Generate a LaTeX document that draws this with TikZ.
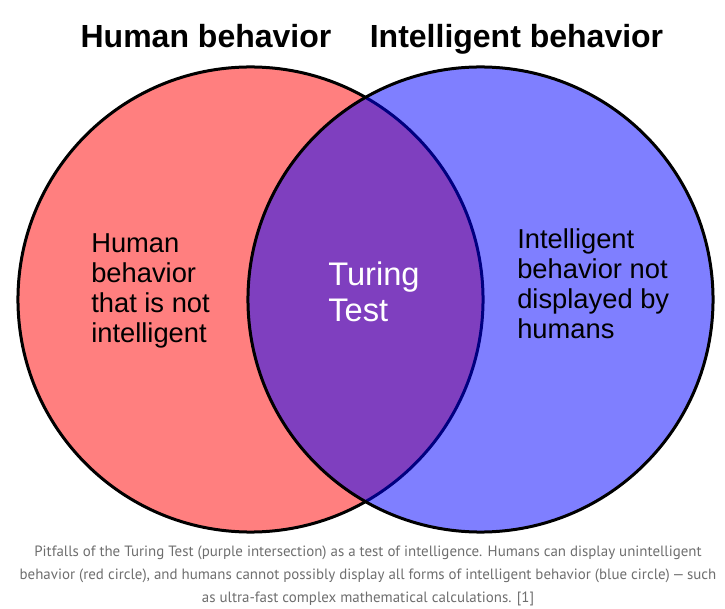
\documentclass[tikz,border=0pt]{standalone}
\usepackage{fontspec}
\setmainfont{Liberation Sans}
\newfontfamily\captionfont{PT Sans}
\usepackage{xcolor}
\definecolor{humanred}{HTML}{FF7F7F}
\definecolor{captiongray}{HTML}{6E6E6E}

\tikzset{
	venn/.style={line width=2.25pt},
	heading/.style={anchor=base, inner sep=0pt, font=\fontsize{24}{28}\selectfont\bfseries},
	inside/.style={anchor=north west, inner sep=0pt, align=left, font=\fontsize{20.5}{22.5}\selectfont},
}

\begin{document}
\begin{tikzpicture}[x=0.75pt,y=-0.75pt]
			% Fixed coordinates
			\useasboundingbox (0,0) rectangle (725,609);
			
			% The two sets
			\draw[venn, fill=humanred] (250.5,299.5) circle[radius=174.4pt];
			\draw[venn, fill=blue, fill opacity=0.5] (480.5,299.5) circle[radius=174.4pt];
			
			% Headings
			\node[heading] (h1) at (206,48) {Human behavior};
			\node[heading] (h2) at (516.5,48) {Intelligent behavior};
			
			% Texts inside the regions
			\node[inside] (r1) at (91,233) {Human\\behavior\\that is not\\intelligent};
			\node[inside, text=white, font=\fontsize{24.5}{27}\selectfont] (r2) at (328,262) {Turing\\Test};
			\node[inside] (r3) at (517,228) {Intelligent\\behavior not\\displayed by\\humans};
			
			% Caption
			\node[align=center, text=captiongray, font=\captionfont\fontsize{11.2}{17.25}\selectfont] (cap) at (368,576)
			{Pitfalls of the Turing Test (purple intersection) as a test of intelligence. Humans can display unintelligent\\
			behavior (red circle), and humans cannot possibly display all forms of intelligent behavior (blue circle)\,—\,such\\
			as ultra-fast complex mathematical calculations. [1]};
		\end{tikzpicture}
\end{document}
